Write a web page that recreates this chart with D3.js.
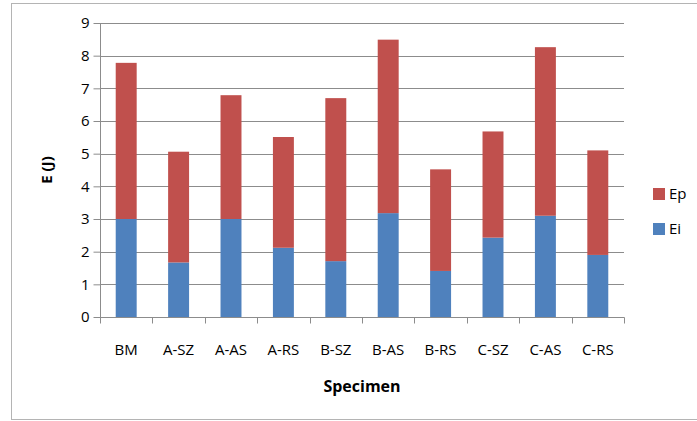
<!DOCTYPE html>
<html>
<head>
<meta charset="utf-8">
<script src="https://cdn.jsdelivr.net/npm/d3@7"></script>
<style>
  html, body { margin: 0; padding: 0; background: #fff; }
  svg text { font-family: "Open Sans", "Liberation Sans", sans-serif; fill: #000; }
</style>
</head>
<body>
<svg id="chart" width="697" height="421"></svg>
<script>
const categories = ["BM", "A-SZ", "A-AS", "A-RS", "B-SZ", "B-AS", "B-RS", "C-SZ", "C-AS", "C-RS"];
const ei = [3.00, 1.67, 3.00, 2.12, 1.71, 3.18, 1.41, 2.43, 3.10, 1.90];
const ep = [4.78, 3.39, 3.79, 3.39, 4.99, 5.31, 3.11, 3.25, 5.16, 3.20];
const yTicks = [0, 1, 2, 3, 4, 5, 6, 7, 8, 9];
const seriesNames = ["Ei", "Ep"];
const colors = { Ei: "#4F81BD", Ep: "#C0504D" };

const svg = d3.select("#chart");
const W = 697, H = 421;
const m = { left: 100, right: 73, top: 23, bottom: 104 };
const x0 = m.left, x1 = W - m.right, yTop = m.top, yBot = H - m.bottom;

// outer border
svg.append("rect").attr("x", 11.5).attr("y", 3.5).attr("width", 700).attr("height", 416)
  .attr("fill", "none").attr("stroke", "#b4b4b4").attr("stroke-width", 1);

const x = d3.scaleBand().domain(categories).range([x0, x1]).paddingInner(0.6).paddingOuter(0.3);
const xb = d3.scaleBand().domain(categories).range([x0, x1]);
const y = d3.scaleLinear().domain([0, 9]).range([yBot, yTop]);

// gridlines
svg.append("g").selectAll("line").data(yTicks.filter(d => d > 0)).join("line")
  .attr("x1", x0).attr("x2", x1)
  .attr("y1", d => Math.round(y(d)) + 0.5).attr("y2", d => Math.round(y(d)) + 0.5)
  .attr("stroke", "#8c8c8c").attr("stroke-width", 1);

// stacked bars
const rows = categories.map((c, i) => ({ cat: c, Ei: ei[i], Ep: ep[i] }));
const stacked = d3.stack().keys(seriesNames)(rows);
svg.append("g").selectAll("g").data(stacked).join("g")
  .attr("fill", d => colors[d.key])
  .selectAll("rect").data(d => d).join("rect")
  .attr("x", d => x(d.data.cat))
  .attr("width", x.bandwidth())
  .attr("y", d => y(d[1]))
  .attr("height", d => y(d[0]) - y(d[1]));

// y axis
const yAxis = d3.axisLeft(y).tickValues(yTicks).tickSize(7).tickPadding(4).tickFormat(d3.format("d"));
const gy = svg.append("g").attr("transform", `translate(${x0 + 0.5},0)`).call(yAxis);
gy.select(".domain").attr("stroke", "#8c8c8c").attr("d", `M0,${yTop}V${yBot}`);
gy.selectAll(".tick line").attr("stroke", "#8c8c8c");
gy.selectAll(".tick text").attr("font-size", 15).attr("font-family", "Open Sans").attr("fill", "#000");

// x axis
const gx = svg.append("g").attr("transform", `translate(0,${Math.round(yBot) + 0.5})`);
gx.append("line").attr("x1", x0).attr("x2", x1 + 0.5).attr("stroke", "#8c8c8c");
const bounds = categories.map(c => xb(c)).concat([x1]);
gx.selectAll("line.tk").data(bounds).join("line").attr("class", "tk")
  .attr("x1", d => Math.round(d) + 0.5).attr("x2", d => Math.round(d) + 0.5)
  .attr("y1", 0).attr("y2", 6).attr("stroke", "#8c8c8c");
gx.selectAll("text").data(categories).join("text")
  .attr("x", d => xb(d) + xb.bandwidth() / 2).attr("y", 37)
  .attr("text-anchor", "middle").attr("font-size", 15).text(d => d);

// axis titles
svg.append("text").attr("x", (x0 + x1) / 2).attr("y", 392)
  .attr("text-anchor", "middle").attr("font-size", 16).attr("font-weight", "bold").text("Specimen");
svg.append("text").attr("transform", `translate(52,${(yTop + yBot) / 2}) rotate(-90)`)
  .attr("text-anchor", "middle").attr("font-size", 15).attr("font-weight", "bold").text("E (J)");

// legend
const legendItems = ["Ep", "Ei"];
const lg = svg.append("g").selectAll("g").data(legendItems).join("g")
  .attr("transform", (d, i) => `translate(653,${188 + i * 35})`);
lg.append("rect").attr("width", 12).attr("height", 12).attr("fill", d => colors[d]);
lg.append("text").attr("x", 16).attr("y", 11).attr("font-size", 15).text(d => d);
</script>
</body>
</html>
